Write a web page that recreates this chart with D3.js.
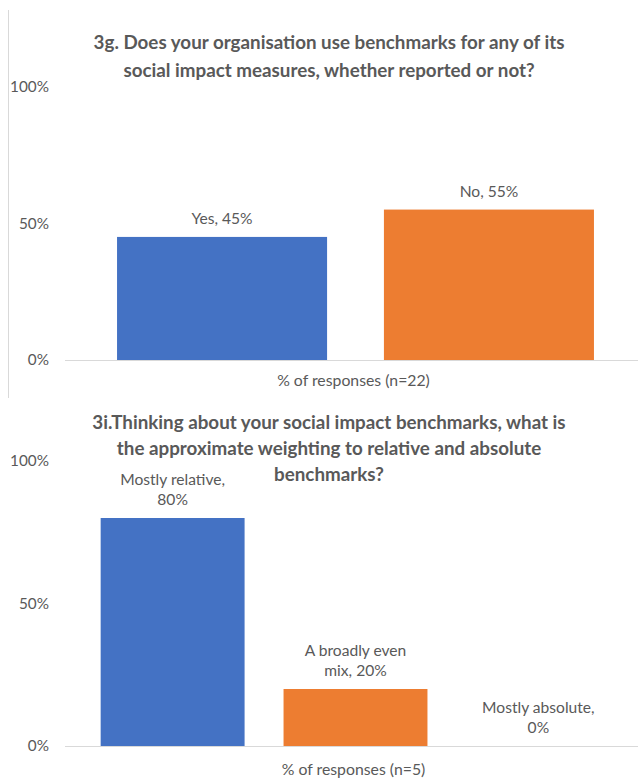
<!DOCTYPE html>
<html>
<head>
<meta charset="utf-8">
<script src="https://cdn.jsdelivr.net/npm/d3@7"></script>
<style>
  html, body { margin: 0; padding: 0; background: #ffffff; }
  svg { display: block; }
  text { font-family: Lato, "Open Sans", sans-serif; fill: #595959; }
</style>
</head>
<body>
<svg id="chart" width="638" height="781"></svg>
<script>
// Survey question 3g: benchmark use
const q3gTitle = ["3g. Does your organisation use benchmarks for any of its",
                  "social impact measures, whether reported or not?"];
const q3gCategories = ["Yes", "No"];
const q3gValues = [45, 55];
const q3gAxisTitle = "% of responses (n=22)";

// Survey question 3i: relative vs absolute weighting
const q3iTitle = ["3i.Thinking about your social impact benchmarks, what is",
                  "the approximate weighting to relative and absolute",
                  "benchmarks?"];
const q3iCategories = ["Mostly relative", "A broadly even mix", "Mostly absolute"];
const q3iValues = [80, 20, 0];
const q3iAxisTitle = "% of responses (n=5)";

const yTicks = [0, 50, 100];
const barColors = ["#4472C4", "#ED7D31", "#A5A5A5"];

const svg = d3.select("#chart");

// light frame edge on the left of the first panel
svg.append("line")
  .attr("x1", 8.5).attr("x2", 8.5).attr("y1", 10).attr("y2", 398)
  .attr("stroke", "#D9D9D9").attr("stroke-width", 1);

function wrapWords(textSel, words, maxWidth) {
  const lines = [];
  let cur = [];
  const probe = textSel.append("tspan");
  words.forEach(w => {
    const trial = cur.concat([w]).join(" ");
    probe.text(trial);
    if (cur.length && probe.node().getComputedTextLength() > maxWidth) {
      lines.push(cur.join(" "));
      cur = [w];
    } else {
      cur.push(w);
    }
  });
  if (cur.length) lines.push(cur.join(" "));
  probe.remove();
  return lines;
}

function drawPanel(cfg) {
  const g = svg.append("g");

  const x = d3.scaleBand()
    .domain(cfg.categories)
    .range([65, 646])
    .paddingInner(0.213)
    .paddingOuter(0.195);

  const y = d3.scaleLinear().domain([0, 100]).range([cfg.yBottom, cfg.yTop]);

  // title
  const title = g.append("text")
    .attr("text-anchor", "middle")
    .style("font-weight", "bold")
    .style("font-size", "18.8px");
  cfg.title.forEach((line, i) => {
    title.append("tspan")
      .attr("x", 329)
      .attr("y", cfg.titleY + i * cfg.titleStep)
      .text(line);
  });

  // value axis labels (no gridlines, no axis line)
  const yAxis = d3.axisLeft(y)
    .tickValues(yTicks)
    .tickFormat(d => d + "%")
    .tickSize(0)
    .tickPadding(0);
  const ya = g.append("g")
    .attr("transform", "translate(49,0)")
    .call(yAxis);
  ya.select(".domain").remove();
  ya.selectAll("text")
    .style("font-family", "Lato, sans-serif")
    .style("font-size", "15.3px")
    .attr("fill", "#595959");

  // bars
  g.selectAll("rect.bar")
    .data(cfg.categories.map((c, i) => ({ c, v: cfg.values[i], i })))
    .join("rect")
    .attr("class", "bar")
    .attr("x", d => x(d.c))
    .attr("width", x.bandwidth())
    .attr("y", d => y(d.v))
    .attr("height", d => y(0) - y(d.v))
    .attr("fill", d => barColors[d.i]);

  // category axis line
  g.append("line")
    .attr("x1", x.range()[0]).attr("x2", x.range()[1])
    .attr("y1", y(0) + 0.5).attr("y2", y(0) + 0.5)
    .attr("stroke", "#D9D9D9").attr("stroke-width", 1);

  // data labels "Category, value%", wrapped to the label box
  cfg.categories.forEach((c, i) => {
    const v = cfg.values[i];
    const t = g.append("text")
      .attr("text-anchor", "middle")
      .style("font-size", "15.6px");
    const words = (c + ", " + v + "%").split(" ");
    const lines = wrapWords(t, words, cfg.labelWidth);
    const cx = x(c) + x.bandwidth() / 2;
    const lastBase = y(v) - 13;
    lines.forEach((ln, k) => {
      t.append("tspan")
        .attr("x", cx)
        .attr("y", lastBase - (lines.length - 1 - k) * 20.5)
        .text(ln);
    });
  });

  // axis title
  g.append("text")
    .attr("text-anchor", "middle")
    .attr("x", (x.range()[0] + x.range()[1]) / 2 - 2)
    .attr("y", cfg.axisTitleY)
    .style("font-size", "15.8px")
    .text(cfg.axisTitle);
}

drawPanel({
  title: q3gTitle, titleY: 49, titleStep: 28,
  categories: q3gCategories, values: q3gValues,
  yBottom: 360, yTop: 86.5,
  labelWidth: 200,
  axisTitle: q3gAxisTitle, axisTitleY: 386
});

drawPanel({
  title: q3iTitle, titleY: 429, titleStep: 26,
  categories: q3iCategories, values: q3iValues,
  yBottom: 746, yTop: 461,
  labelWidth: 122,
  axisTitle: q3iAxisTitle, axisTitleY: 775
});
</script>
</body>
</html>
